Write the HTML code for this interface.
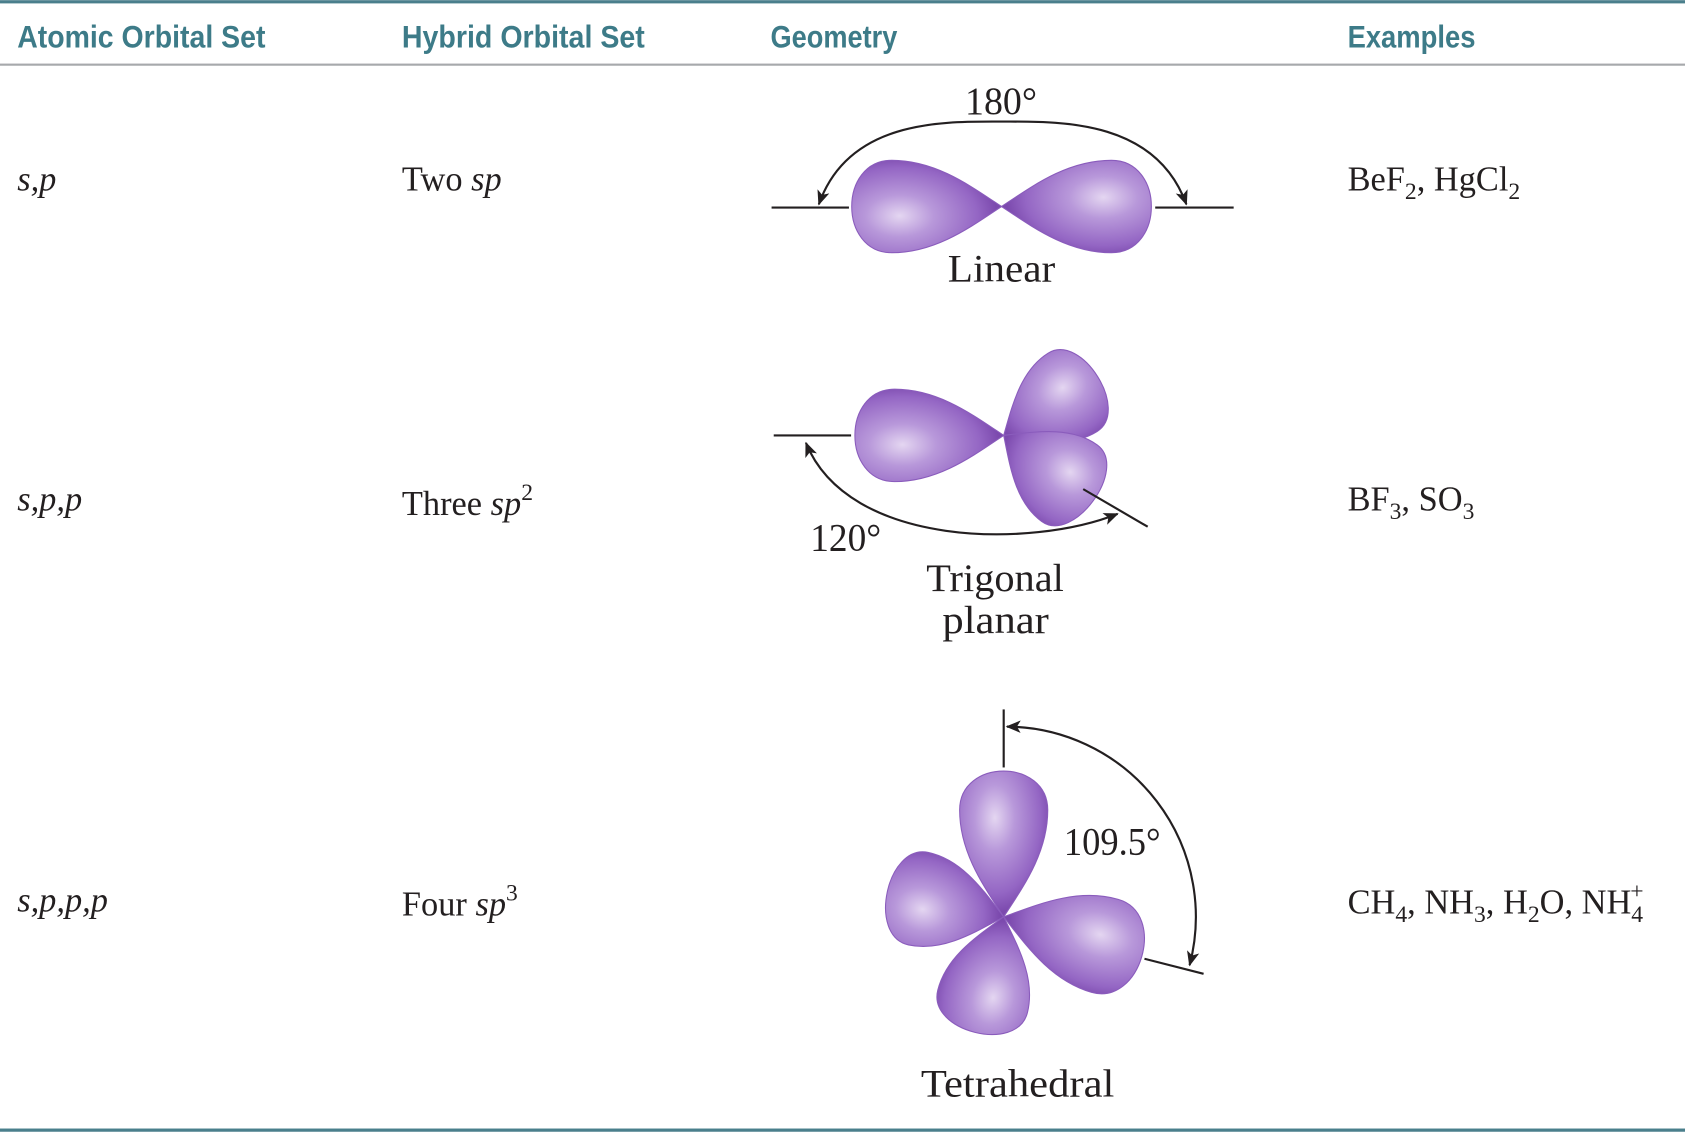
<!DOCTYPE html>
<html><head><meta charset="utf-8"><style>
html,body{margin:0;padding:0;background:#fff;}
svg{display:block;}
.h{font-family:"Liberation Sans Narrow","Liberation Sans",sans-serif;font-weight:bold;font-size:29px;fill:#3d7b88;}
.t{font-family:"Liberation Serif",serif;font-size:32px;fill:#231f20;}
.g{font-family:"Liberation Serif",serif;font-size:36px;fill:#231f20;}
.i{font-style:italic;}
</style></head><body>
<svg id="s" width="1685" height="1133" viewBox="0 0 1568 1054" xmlns="http://www.w3.org/2000/svg">
<defs>
<radialGradient id="g" cx="0.68" cy="0.4" r="0.65">
<stop offset="0" stop-color="#e4d6f1"/><stop offset="0.35" stop-color="#b898da"/><stop offset="0.8" stop-color="#9466c4"/><stop offset="1" stop-color="#7c4aae"/></radialGradient>
<marker id="ar" viewBox="0 0 12 10" refX="11" refY="5" markerWidth="14" markerHeight="12" markerUnits="userSpaceOnUse" orient="auto-start-reverse"><path d="M0,0 L12,5 L0,10 L3,5 Z" fill="#231f20"/></marker>
</defs>
<rect x="0" y="0" width="1568" height="3" fill="#4a7f8c"/>
<rect x="0" y="59" width="1568" height="2" fill="#a7a9ac"/>
<rect x="0" y="1050" width="1568" height="3" fill="#4a7f8c"/>
<text class="h" x="16" y="44" textLength="231" lengthAdjust="spacingAndGlyphs">Atomic Orbital Set</text>
<text class="h" x="374" y="44" textLength="226" lengthAdjust="spacingAndGlyphs">Hybrid Orbital Set</text>
<text class="h" x="717" y="44" textLength="118" lengthAdjust="spacingAndGlyphs">Geometry</text>
<text class="h" x="1254" y="44" textLength="119" lengthAdjust="spacingAndGlyphs">Examples</text>

<text class="t i" x="16" y="177">s,p</text>
<text class="t" x="374" y="177">Two <tspan class="i">sp</tspan></text>
<text class="t" x="1254" y="177">BeF<tspan font-size="22" dy="8">2</tspan><tspan dy="-8">, HgCl</tspan><tspan font-size="22" dy="8">2</tspan></text>

<text class="t i" x="16" y="475">s,p,p</text>
<text class="t" x="374" y="479">Three <tspan class="i">sp</tspan><tspan font-size="22" dy="-14">2</tspan></text>
<text class="t" x="1254" y="475">BF<tspan font-size="22" dy="8">3</tspan><tspan dy="-8">, SO</tspan><tspan font-size="22" dy="8">3</tspan></text>

<text class="t i" x="16" y="848">s,p,p,p</text>
<text class="t" x="374" y="852">Four <tspan class="i">sp</tspan><tspan font-size="22" dy="-14">3</tspan></text>
<text class="t" x="1254" y="850">CH<tspan font-size="22" dy="8">4</tspan><tspan dy="-8">, NH</tspan><tspan font-size="22" dy="8">3</tspan><tspan dy="-8">, H</tspan><tspan font-size="22" dy="8">2</tspan><tspan dy="-8">O, NH</tspan><tspan font-size="22" dy="8">4</tspan><tspan font-size="22" dx="-12" dy="-22">+</tspan></text>

<g id="geo" stroke="#231f20" stroke-width="2" fill="none">
<line x1="718" y1="193" x2="790" y2="193"/>
<line x1="1075" y1="193" x2="1148" y2="193"/>
<path d="M762,190 C790,110 880,113 932,113 C985,113 1075,110 1104,190" marker-start="url(#ar)" marker-end="url(#ar)"/>
<line x1="720" y1="405" x2="792" y2="405"/>
<line x1="934" y1="660" x2="934" y2="714"/>
<line x1="1065" y1="892" x2="1120" y2="906"/>
<path d="M937,676 A177,177 0 0 1 1107,898" marker-start="url(#ar)" marker-end="url(#ar)"/>
</g>
<g id="lobes"></g>
<g stroke="#231f20" stroke-width="2" fill="none">
<line x1="1008" y1="455" x2="1068" y2="490"/>
<path d="M750,412 C790,510 960,510 1040,478" marker-start="url(#ar)" marker-end="url(#ar)"/>
</g>
<text class="g" x="898" y="106" textLength="67" lengthAdjust="spacingAndGlyphs">180°</text>
<text class="g" x="882" y="262" textLength="100" lengthAdjust="spacingAndGlyphs">Linear</text>
<text class="g" x="754" y="512" textLength="66" lengthAdjust="spacingAndGlyphs">120°</text>
<text class="g" x="862" y="550" textLength="128" lengthAdjust="spacingAndGlyphs">Trigonal</text>
<text class="g" x="877" y="589" textLength="99" lengthAdjust="spacingAndGlyphs">planar</text>
<text class="g" x="990" y="795" textLength="90" lengthAdjust="spacingAndGlyphs">109.5°</text>
<text class="g" x="857" y="1020" textLength="180" lengthAdjust="spacingAndGlyphs">Tetrahedral</text>
</svg>
<script>
// lobes: [centerX, centerY, angleDeg, length, width]
const lobeCx=[932,932, 934,934,934, 934,934,934,934];
const lobeCy=[192,192, 405,405,405, 853,853,853,853];
const lobeAng=[180,0, 180,-32,36, -90,192,16,104];
const lobeLen=[146,146, 145,108,108, 142,116,140,116];
const lobeWid=[86,86, 86,86,88, 82,88,90,86];
const lobeNames=['linear-lobe-left','linear-lobe-right','trigonal-lobe-left','trigonal-lobe-upper','trigonal-lobe-lower','tetra-lobe-top','tetra-lobe-left','tetra-lobe-right','tetra-lobe-bottom'];
const order=[0,1,3,2,4,6,5,7,8];
const G=document.getElementById('lobes');
order.forEach(i=>{
  const L=lobeLen[i],W=lobeWid[i]/2;
  const d=`M0,0 C${L*0.2},${-W*0.45} ${L*0.42},${-W} ${L*0.7},${-W} C${L*1.04},${-W} ${L*1.04},${W} ${L*0.7},${W} C${L*0.42},${W} ${L*0.2},${W*0.45} 0,0 Z`;
  const p=document.createElementNS('http://www.w3.org/2000/svg','path');
  p.setAttribute('d',d);
  p.setAttribute('fill','url(#g)');
  p.setAttribute('stroke','#8a5cbc');
  p.setAttribute('stroke-width','1');
  p.setAttribute('transform',`translate(${lobeCx[i]},${lobeCy[i]}) rotate(${lobeAng[i]})`);
  
  
  G.appendChild(p);
});
</script>
</body></html>
